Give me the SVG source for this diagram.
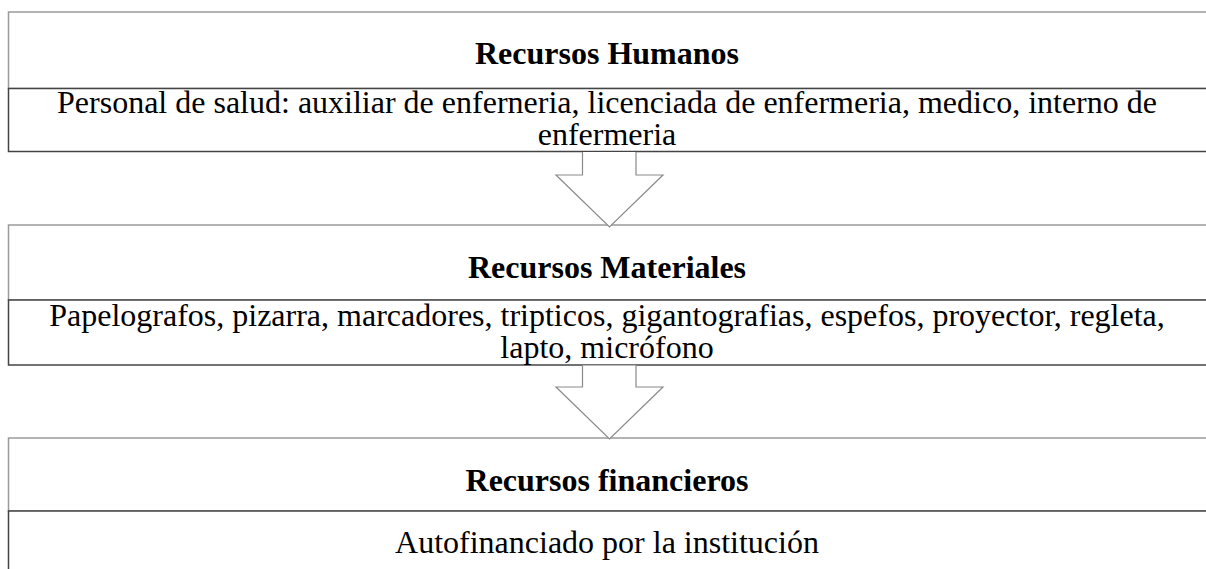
<svg xmlns="http://www.w3.org/2000/svg" width="1206" height="569" viewBox="0 0 1206 569">
<style>
.hdr{fill:#fff;stroke:#9a9a9a;stroke-width:1.5}
.cnt{fill:#fff;stroke:#444;stroke-width:1.5}
.arr{fill:#fff;stroke:#8a8a8a;stroke-width:1.2}
.t{font-family:"Liberation Serif","Times New Roman",serif;font-size:32px;fill:#000;text-anchor:middle}
.b{font-weight:bold}
</style>
<rect width="1206" height="569" fill="#fff"/>
<g id="humanos">
<rect class="hdr" x="8.5" y="12" width="1210" height="76.5"/>
<rect class="cnt" x="8.5" y="88.5" width="1210" height="63"/>
<text class="t b" x="607" y="64">Recursos Humanos</text>
<text class="t" x="607" y="113">Personal de salud: auxiliar de enferneria, licenciada de enfermeria, medico, interno de<tspan x="607" dy="32">enfermeria</tspan></text>
</g>
<g id="materiales">
<rect class="hdr" x="8.5" y="225" width="1210" height="75"/>
<rect class="cnt" x="8.5" y="300" width="1210" height="65"/>
<text class="t b" x="607" y="278">Recursos Materiales</text>
<text class="t" x="607" y="326">Papelografos, pizarra, marcadores, tripticos, gigantografias, espefos, proyector, regleta,<tspan x="607" dy="32">lapto, micrófono</tspan></text>
</g>
<g id="financieros">
<rect class="hdr" x="8.5" y="438" width="1210" height="73"/>
<rect class="cnt" x="8.5" y="511" width="1210" height="80"/>
<text class="t b" x="607" y="491">Recursos financieros</text>
<text class="t" x="607" y="553">Autofinanciado por la institución</text>
</g>
<g id="connectors">
<polyline class="arr" points="582.5,152 582.5,175 556,175 609.5,227 663,175 636,175 636,152"/>
<polyline class="arr" points="582.5,365.5 582.5,387 556,387 609.5,439 663,387 636,387 636,365.5"/>
</g>
</svg>
